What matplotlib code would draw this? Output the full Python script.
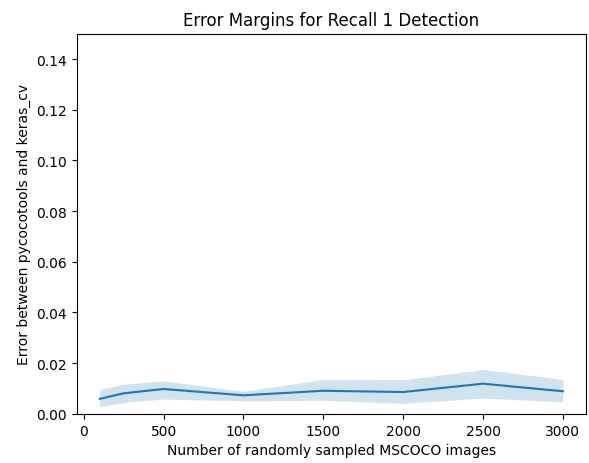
import numpy as np
import matplotlib
matplotlib.use("Agg")
import matplotlib.pyplot as plt

# sample sizes and error stats
n_images = [100, 250, 500, 1000, 1500, 2000, 2500, 3000]
err_mean = [0.0059, 0.0081, 0.0098, 0.0073, 0.0091, 0.0086, 0.0119, 0.0089]
err_low = [0.0028, 0.0045, 0.0058, 0.0051, 0.0053, 0.0041, 0.0062, 0.0047]
err_high = [0.0096, 0.0117, 0.0130, 0.0089, 0.0136, 0.0134, 0.0175, 0.0136]

fig = plt.figure(figsize=(5.89, 4.64), dpi=100)
ax = fig.add_axes([0.130, 0.106, 0.865, 0.819])

ax.plot(n_images, err_mean, color="C0", lw=1.5)
ax.fill_between(n_images, err_low, err_high, color="C0", alpha=0.2, lw=0)

ax.set_ylim(0, 0.15)
ax.set_title("Error Margins for Recall 1 Detection")
ax.set_xlabel("Number of randomly sampled MSCOCO images")
ax.set_ylabel("Error between pycocotools and keras_cv")

fig.savefig("out.png", dpi=100)
